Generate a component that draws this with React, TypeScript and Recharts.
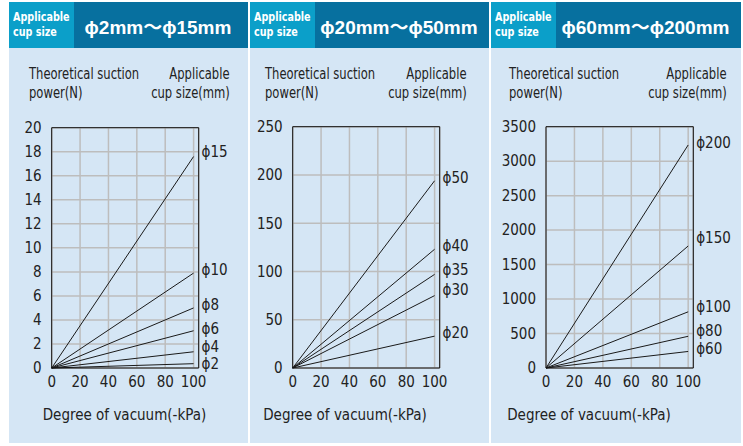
import React from 'react';
import { LineChart, Line, XAxis, YAxis, CartesianGrid, ReferenceLine } from 'recharts';

// degree of vacuum (-kPa) at which each line is read
const VACUUM = [0, 100];
const X_TICKS = [0, 20, 40, 60, 80, 100];

// small cups, phi2 .. phi15
const SMALL_SIZES = ['ϕ15', 'ϕ10', 'ϕ8', 'ϕ6', 'ϕ4', 'ϕ2'];
const SMALL_FORCE = [[0, 17.6], [0, 7.9], [0, 5.0], [0, 3.1], [0, 1.35], [0, 0.36]];
const SMALL_TICKS = [0, 2, 4, 6, 8, 10, 12, 14, 16, 18, 20];

// medium cups, phi20 .. phi50
const MID_SIZES = ['ϕ50', 'ϕ40', 'ϕ35', 'ϕ30', 'ϕ20'];
const MID_FORCE = [[0, 194], [0, 123], [0, 97], [0, 75], [0, 33]];
const MID_TICKS = [0, 50, 100, 150, 200, 250];

// large cups, phi60 .. phi200
const LARGE_SIZES = ['ϕ200', 'ϕ150', 'ϕ100', 'ϕ80', 'ϕ60'];
const LARGE_FORCE = [[0, 3235], [0, 1770], [0, 815], [0, 460], [0, 240]];
const LARGE_TICKS = [0, 500, 1000, 1500, 2000, 2500, 3000, 3500];

const FONT = "'DejaVu Sans Condensed', 'Liberation Sans', sans-serif";
const BG = '#d5e6f5';
const HEAD_DARK = '#07709f';
const HEAD_LIGHT = '#0b9fc9';
const X_MAX = 103.6;

type PanelProps = {
    left: number;
    width: number;
    title: string;
    sizes: string[];
    force: number[][];
    ticks: number[];
    plotLeft: number;
    plotTop: number;
    plotRight: number;
    nudge: number[];
    textLeft: number;
    textRight: number;
    xLabelCenter: number;
};

// squeezed text, the original uses a condensed face
const Narrow: React.FC<{ scale: number; origin: string; children: React.ReactNode }> = ({ scale, origin, children }) => (
    <span style={{ display: 'inline-block', transform: `scaleX(${scale})`, transformOrigin: origin, whiteSpace: 'nowrap' }}>
        {children}
    </span>
);

const buildRows = (sizes: string[], force: number[][]) =>
    VACUUM.map((v, i) => {
        const row: Record<string, number> = { vac: v };
        sizes.forEach((s, k) => { row[s] = force[k][i]; });
        return row;
    });

const Panel: React.FC<PanelProps> = (p) => {
    const rows = buildRows(p.sizes, p.force);
    const yMax = p.ticks[p.ticks.length - 1];
    const chartH = 400;
    const plotBottom = 366;
    const xAxisH = 30;

    return (
        <div style={{ position: 'absolute', left: p.left, top: 2, width: p.width, height: 441, background: BG }}>
            {/* Header */}
            <div style={{ position: 'absolute', left: 0, top: 0, width: p.width, height: 46, background: HEAD_DARK }}>
                <div style={{
                    position: 'absolute', left: 0, top: 0, width: 65, height: 46, background: HEAD_LIGHT,
                    color: '#fff', fontWeight: 'bold', fontSize: 12, lineHeight: '15px', paddingLeft: 4,
                    boxSizing: 'border-box', display: 'flex', flexDirection: 'column', justifyContent: 'center'
                }}>
                    <Narrow scale={0.89} origin="left">Applicable</Narrow>
                    <Narrow scale={0.89} origin="left">cup size</Narrow>
                </div>
                <div style={{
                    position: 'absolute', left: 65, top: 0, right: 0, height: 46, color: '#fff',
                    fontWeight: 'bold', fontSize: 19, fontFamily: "'Liberation Sans', 'Noto Sans CJK JP', sans-serif",
                    display: 'flex', alignItems: 'center', justifyContent: 'center', paddingRight: 6
                }}>
                    {p.title}
                </div>
            </div>

            {/* Axis captions */}
            <div style={{ position: 'absolute', left: p.textLeft, top: 63, fontSize: 15.5, lineHeight: '19px', color: '#222' }}>
                <Narrow scale={0.83} origin="left">Theoretical suction</Narrow><br />
                <Narrow scale={0.83} origin="left">power(N)</Narrow>
            </div>
            <div style={{ position: 'absolute', right: p.textRight, top: 63, fontSize: 15.5, lineHeight: '19px', color: '#222', textAlign: 'right' }}>
                <Narrow scale={0.83} origin="right">Applicable</Narrow><br />
                <Narrow scale={0.83} origin="right">cup size(mm)</Narrow>
            </div>

            <div style={{ position: 'absolute', left: 0, top: 0 }}>
                <LineChart
                    width={p.width}
                    height={chartH}
                    data={rows}
                    margin={{ top: p.plotTop, right: p.plotRight, left: 0, bottom: chartH - plotBottom - xAxisH }}
                >
                    <CartesianGrid stroke="#bdbdbd" strokeWidth={1.5} />
                    <XAxis
                        dataKey="vac"
                        type="number"
                        domain={[0, X_MAX]}
                        ticks={X_TICKS}
                        interval={0}
                        height={xAxisH}
                        tickLine={false}
                        axisLine={{ stroke: '#111' }}
                        tick={{ fill: '#222', fontSize: 15 }}
                        tickMargin={2}
                    />
                    <YAxis
                        type="number"
                        domain={[0, yMax]}
                        ticks={p.ticks}
                        interval={0}
                        width={p.plotLeft}
                        tickLine={false}
                        axisLine={{ stroke: '#111' }}
                        tick={{ fill: '#222', fontSize: 15 }}
                        tickMargin={4}
                    />
                    <ReferenceLine x={X_MAX} stroke="#111" />
                    <ReferenceLine y={yMax} stroke="#111" />
                    {p.sizes.map((s, k) => (
                        <Line
                            key={s}
                            dataKey={s}
                            type="linear"
                            stroke="#1a1a1a"
                            strokeWidth={1}
                            dot={false}
                            isAnimationActive={false}
                            label={(lp: any) =>
                                lp.index === VACUUM.length - 1 ? (
                                    <text
                                        key={`lbl-${s}`}
                                        x={lp.x + 8}
                                        y={lp.y + p.nudge[k]}
                                        dominantBaseline="central"
                                        fontSize={15}
                                        fill="#222"
                                    >
                                        {s}
                                    </text>
                                ) : (
                                    <g key={`lbl-${s}-${lp.index}`} />
                                )
                            }
                        />
                    ))}
                </LineChart>
            </div>

            <div style={{
                position: 'absolute', left: p.xLabelCenter - 100, width: 200, top: 404, textAlign: 'center',
                fontSize: 15, color: '#222'
            }}>
                Degree of vacuum(-kPa)
            </div>
        </div>
    );
};

export default function App() {
    return (
        <div style={{ position: 'absolute', left: 0, top: 0, width: 743, height: 446, background: '#fff', fontFamily: FONT }}>
            <Panel
                left={9} width={239} title="ϕ2mm〜ϕ15mm"
                sizes={SMALL_SIZES} force={SMALL_FORCE} ticks={SMALL_TICKS}
                plotLeft={42.7} plotTop={125.7} plotRight={49.3}
                nudge={[-5, -3, -2.6, -2, -5, 0]}
                textLeft={20} textRight={18} xLabelCenter={115.5}
            />
            <Panel
                left={250} width={239} title="ϕ20mm〜ϕ50mm"
                sizes={MID_SIZES} force={MID_FORCE} ticks={MID_TICKS}
                plotLeft={42.7} plotTop={124.7} plotRight={49.3}
                nudge={[-2.4, -3.3, -4.7, -5.3, -2.7]}
                textLeft={15} textRight={22} xLabelCenter={95}
            />
            <Panel
                left={491} width={250} title="ϕ60mm〜ϕ200mm"
                sizes={LARGE_SIZES} force={LARGE_FORCE} ticks={LARGE_TICKS}
                plotLeft={55} plotTop={124.7} plotRight={47.7}
                nudge={[-1.7, -7.7, -4.4, -5, -2.6]}
                textLeft={18} textRight={14} xLabelCenter={98}
            />
        </div>
    );
}
